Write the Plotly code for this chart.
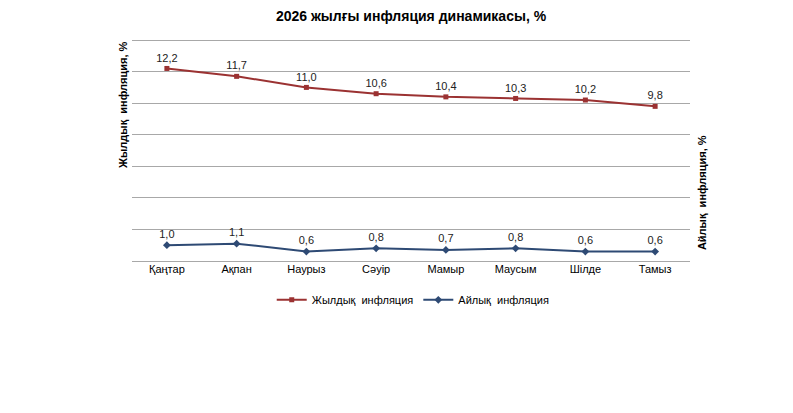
import plotly.graph_objects as go

months = ["Қаңтар", "Ақпан", "Наурыз", "Сәуір", "Мамыр", "Маусым", "Шілде", "Тамыз"]
annual = [12.2, 11.7, 11.0, 10.6, 10.4, 10.3, 10.2, 9.8]
monthly = [1.0, 1.1, 0.6, 0.8, 0.7, 0.8, 0.6, 0.6]

def fmt(v):
    return f"{v:.1f}".replace(".", ",")

FONT = "Liberation Sans, Arial, sans-serif"
RED = "#9B3232"
BLUE = "#2E4A74"

fig = go.Figure()
fig.add_trace(go.Scatter(
    x=months, y=annual, name="Жылдық  инфляция", mode="lines+markers+text",
    line=dict(color=RED, width=2), marker=dict(symbol="square", size=5, color=RED),
    text=[fmt(v) for v in annual], textposition="top center",
    textfont=dict(family=FONT, size=11, color="#222222"), yaxis="y"))
fig.add_trace(go.Scatter(
    x=months, y=monthly, name="Айлық  инфляция", mode="lines+markers+text",
    line=dict(color=BLUE, width=2), marker=dict(symbol="diamond", size=6, color=BLUE),
    text=[fmt(v) for v in monthly], textposition="top center",
    textfont=dict(family=FONT, size=11, color="#222222"), yaxis="y2"))

fig.update_layout(
    width=793, height=413,
    margin=dict(l=124, r=111, t=30, b=160),
    paper_bgcolor="white", plot_bgcolor="white",
    font=dict(family=FONT, size=11, color="#000000"),
    title=dict(text="<b>2026 жылғы инфляция динамикасы, %</b>", x=0.5, xanchor="center",
               xref="paper", y=0.981, yanchor="middle",
               font=dict(family=FONT, size=14, color="#000000")),
    xaxis=dict(type="category", range=[-0.5, 7.5], showgrid=False, showline=False,
               ticks="", tickfont=dict(family=FONT, size=11, color="#000000"),
               zeroline=False),
    yaxis=dict(range=[0, 14.13], tickvals=[0, 2, 4, 6, 8, 10, 12, 14], showticklabels=False,
               showgrid=True, gridcolor="#A8A8A8", gridwidth=1, zeroline=True,
               zerolinecolor="#A8A8A8", zerolinewidth=1, showline=False, ticks=""),
    yaxis2=dict(range=[0, 14.13], overlaying="y", side="right",
                showticklabels=False, showgrid=False, zeroline=False, showline=False),
    legend=dict(orientation="h", x=0.504, xanchor="center", y=-0.174, yanchor="middle",
                font=dict(family=FONT, size=11, color="#000000"), traceorder="normal"),
    showlegend=True,
)

fig.add_annotation(text="<b>Жылдық  инфляция, %</b>", textangle=-90, xref="paper", yref="paper",
                   x=-0.016, y=0.70, xanchor="center", yanchor="middle", showarrow=False,
                   font=dict(family=FONT, size=11, color="#000000"))
fig.add_annotation(text="<b>Айлық  инфляция, %</b>", textangle=-90, xref="paper", yref="paper",
                   x=1.0215, y=0.309, xanchor="center", yanchor="middle", showarrow=False,
                   font=dict(family=FONT, size=11, color="#000000"))

fig.write_html("out.html")
